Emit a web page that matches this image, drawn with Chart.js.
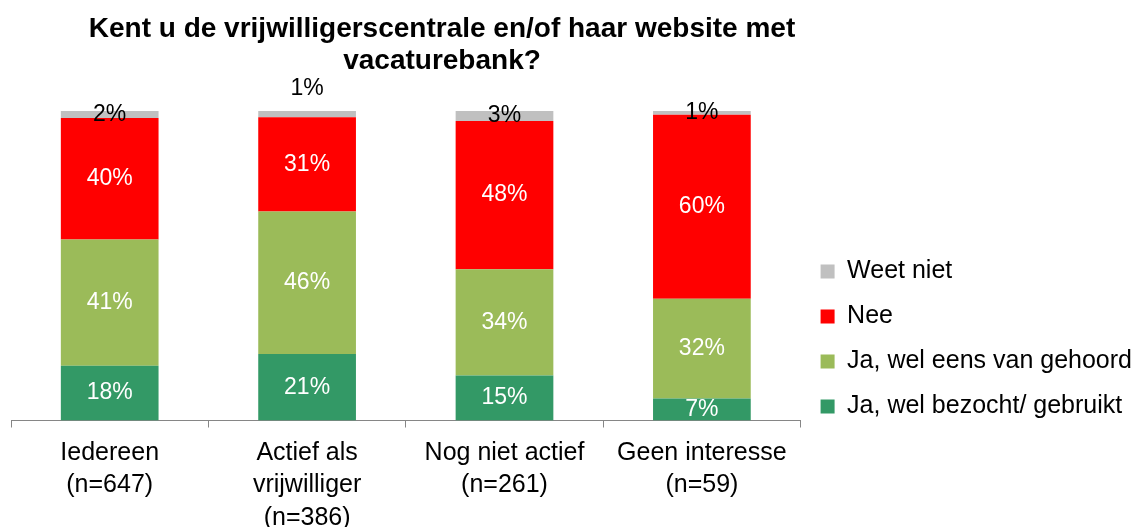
<!DOCTYPE html>
<html>
<head>
<meta charset="utf-8">
<script src="https://cdn.jsdelivr.net/npm/chart.js@4/dist/chart.umd.min.js"></script>
<style>
  body { margin: 0; background: #fff; font-family: "Liberation Sans", Arial, sans-serif; overflow: hidden; }
  /* a bit taller than the window: the last label line runs off the bottom, as in the original */
  #wrap { position: relative; width: 1142px; height: 543px; }
  #title {
    position: absolute; left: 42px; width: 800px; top: 12px;
    text-align: center; font-weight: bold; font-size: 28px; line-height: 32px; color: #000;
  }
</style>
</head>
<body>
<div id="wrap">
  <canvas id="chart1"></canvas>
  <div id="title">Kent u de vrijwilligerscentrale en/of haar website met<br>vacaturebank?</div>
</div>
<script>
const categories = [
  ['Iedereen', '(n=647)'],
  ['Actief als', 'vrijwilliger', '(n=386)'],
  ['Nog niet actief', '(n=261)'],
  ['Geen interesse', '(n=59)']
];

// share per answer, in percent
const bezocht = [17.7, 21.5, 14.5, 7.1];
const gehoord = [40.8, 46.0, 34.4, 32.2];
const nee = [39.2, 30.5, 47.9, 59.5];
const weetNiet = [2.3, 2.0, 3.2, 1.2];

// printed labels
const bezochtLabels = ['18%', '21%', '15%', '7%'];
const gehoordLabels = ['41%', '46%', '34%', '32%'];
const neeLabels = ['40%', '31%', '48%', '60%'];
const weetNietLabels = ['2%', '1%', '3%', '1%'];

const ctx1 = document.getElementById('chart1').getContext('2d');

// draws the percentages in the middle of each segment
const segmentLabels = {
  id: 'segmentLabels',
  afterDatasetsDraw(chart) {
    const c = chart.ctx;
    c.save();
    c.font = '23px "Liberation Sans", Arial, sans-serif';
    c.textAlign = 'center';
    c.textBaseline = 'middle';
    chart.data.datasets.forEach((ds, i) => {
      const meta = chart.getDatasetMeta(i);
      meta.data.forEach((bar, j) => {
        let y = (bar.y + bar.base) / 2;
        // Excel moved this one above the bar
        if (ds.label === 'Weet niet' && j === 1) y = bar.y - 22;
        c.fillStyle = ds.labelColor;
        c.fillText(ds.valueLabels[j], bar.x, y);
      });
    });
    c.restore();
  }
};

new Chart(ctx1, {
  type: 'bar',
  data: {
    labels: categories,
    datasets: [
      { label: 'Ja, wel bezocht/ gebruikt', data: bezocht, valueLabels: bezochtLabels, backgroundColor: '#339966', labelColor: '#fff' },
      { label: 'Ja, wel eens van gehoord', data: gehoord, valueLabels: gehoordLabels, backgroundColor: '#9bbb59', labelColor: '#fff' },
      { label: 'Nee', data: nee, valueLabels: neeLabels, backgroundColor: '#ff0000', labelColor: '#fff' },
      { label: 'Weet niet', data: weetNiet, valueLabels: weetNietLabels, backgroundColor: '#c0c0c0', labelColor: '#000' }
    ]
  },
  options: {
    responsive: true,
    maintainAspectRatio: false,
    animation: false,
    datasets: {
      bar: { categoryPercentage: 1.0, barPercentage: 0.495 }
    },
    layout: { padding: { left: 11, top: 111, right: 0, bottom: 0 } },
    scales: {
      x: {
        stacked: true,
        grid: { drawOnChartArea: false, drawTicks: true, tickLength: 7, color: '#868686', offset: true },
        border: { color: '#868686', width: 1 },
        ticks: {
          color: '#000',
          font: { family: '"Liberation Sans", Arial, sans-serif', size: 25, lineHeight: 1.3 },
          maxRotation: 0,
          autoSkip: false,
          padding: 9
        }
      },
      y: { stacked: true, display: false, min: 0, max: 100 }
    },
    plugins: {
      legend: {
        position: 'right',
        align: 'center',
        reverse: true,
        // empty title only pushes the items down a bit
        title: { display: true, text: '', font: { size: 10, lineHeight: 1 }, padding: 7 },
        labels: {
          color: '#000',
          boxWidth: 14,
          boxHeight: 14,
          padding: 20,
          font: { family: '"Liberation Sans", Arial, sans-serif', size: 25 }
        }
      },
      tooltip: { enabled: false }
    }
  },
  plugins: [segmentLabels]
});
</script>
</body>
</html>
